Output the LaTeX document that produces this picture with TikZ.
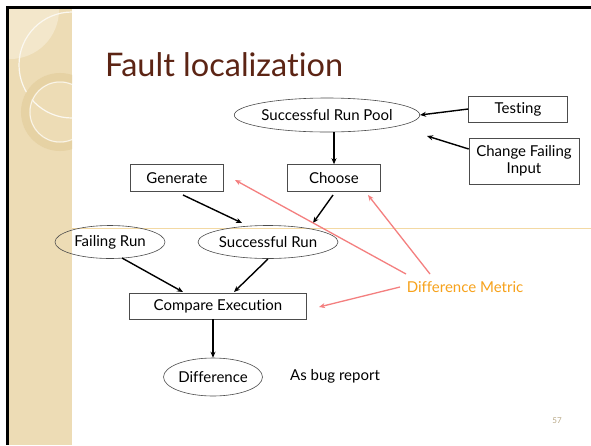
\documentclass[tikz,border=0pt]{standalone}
\usepackage{fontspec}
\setmainfont{Lato}[Ligatures={NoCommon}]
\usetikzlibrary{shapes.geometric,arrows.meta}
\definecolor{panel}{HTML}{EDDCB5}
\definecolor{paneldisk}{HTML}{F3E7CB}
\definecolor{ringc}{HTML}{E6D2A4}
\definecolor{titlec}{HTML}{5C2414}
\definecolor{metricc}{HTML}{F7A21B}
\definecolor{pinkc}{HTML}{F47F7F}
\definecolor{rulec}{HTML}{F3D9A3}
\definecolor{numc}{HTML}{B8A886}
\tikzset{
  txt/.style={font=\fontsize{15}{17}\selectfont},
  box/.style={txt, draw=black!70, line width=0.6pt, rectangle, inner sep=0pt, align=center},
  oval/.style={txt, draw=black!70, line width=0.6pt, ellipse, inner sep=0pt},
  blk/.style={-{Stealth[length=6pt,width=5pt]}, line width=1.4pt, black},
  pnk/.style={-{Stealth[length=6pt,width=5pt]}, line width=1.3pt, pinkc},
}
\begin{document}
\begin{tikzpicture}[x=1pt,y=-1pt]
\useasboundingbox (0,0) rectangle (591,445);
\fill[white] (0,0) rectangle (591,445);
% left panel
\fill[panel] (8,8) rectangle (72,445);
\begin{scope}
\clip (8,8) rectangle (72,445);
\fill[paneldisk] (10,10) circle (49);
\draw[white!80!panel, line width=1.2pt] (72,65) circle (53);
\draw[ringc, line width=8pt] (60,112) circle (35);
\draw[white!70!panel, line width=1pt] (60,112) circle (30);
\end{scope}
% borders
\fill[black] (6,6) rectangle (591,9);
\fill[black] (6,6) rectangle (9,445);
% rule
\draw[rulec, line width=0.8pt] (72,228) -- (591,228);
% title
\node[anchor=base west, text=titlec, font=\fontsize{32.5}{38}\selectfont, inner sep=0pt] (title) at (105,76) {Fault localization};
% nodes
\node[oval, minimum width=180pt, minimum height=34pt] (pool) at (327,115) {Successful Run Pool};
\node[box, minimum width=99pt, minimum height=26pt] (testing) at (518,109) {Testing};
\node[box, minimum width=110pt, minimum height=46pt] (change) at (524,161) {Change Failing\\Input};
\node[box, minimum width=93pt, minimum height=27pt] (choose) at (334,178) {Choose};
\node[box, minimum width=93pt, minimum height=27pt] (generate) at (177,178) {Generate};
\node[oval, minimum width=110pt, minimum height=33pt] (failing) at (110,242) {Failing Run};
\node[oval, minimum width=140pt, minimum height=33pt] (succ) at (268,242) {Successful Run};
\node[box, minimum width=177pt, minimum height=26pt] (compare) at (218,306) {Compare Execution};
\node[oval, minimum width=99pt, minimum height=38pt] (diff) at (213,377) {Difference};
\node[txt, inner sep=0pt] (bug) at (335,376) {As bug report};
\node[txt, text=metricc, inner sep=0pt] (metric) at (465,287) {Difference Metric};
\node[font=\fontsize{8}{9}\selectfont, text=numc, inner sep=0pt] (num) at (557,421) {57};
% black arrows
\draw[blk] (testing.west) -- (pool.east);
\draw[blk] (change.west |- 0,149) -- (427,136);
\draw[blk] (pool.south -| choose.north) -- (choose.north);
\draw[blk] (183,195) -- (242,223);
\draw[blk] (333,195) -- (313,223);
\draw[blk] (122,258) -- (183,292);
\draw[blk] (268,259) -- (234,292);
\draw[blk] (compare.south -| diff.north) -- (diff.north);
% pink arrows
\draw[pnk] (406,274) -- (235,180);
\draw[pnk] (430,274) -- (368,195);
\draw[pnk] (400,287) -- (319,307);
\end{tikzpicture}
\end{document}
